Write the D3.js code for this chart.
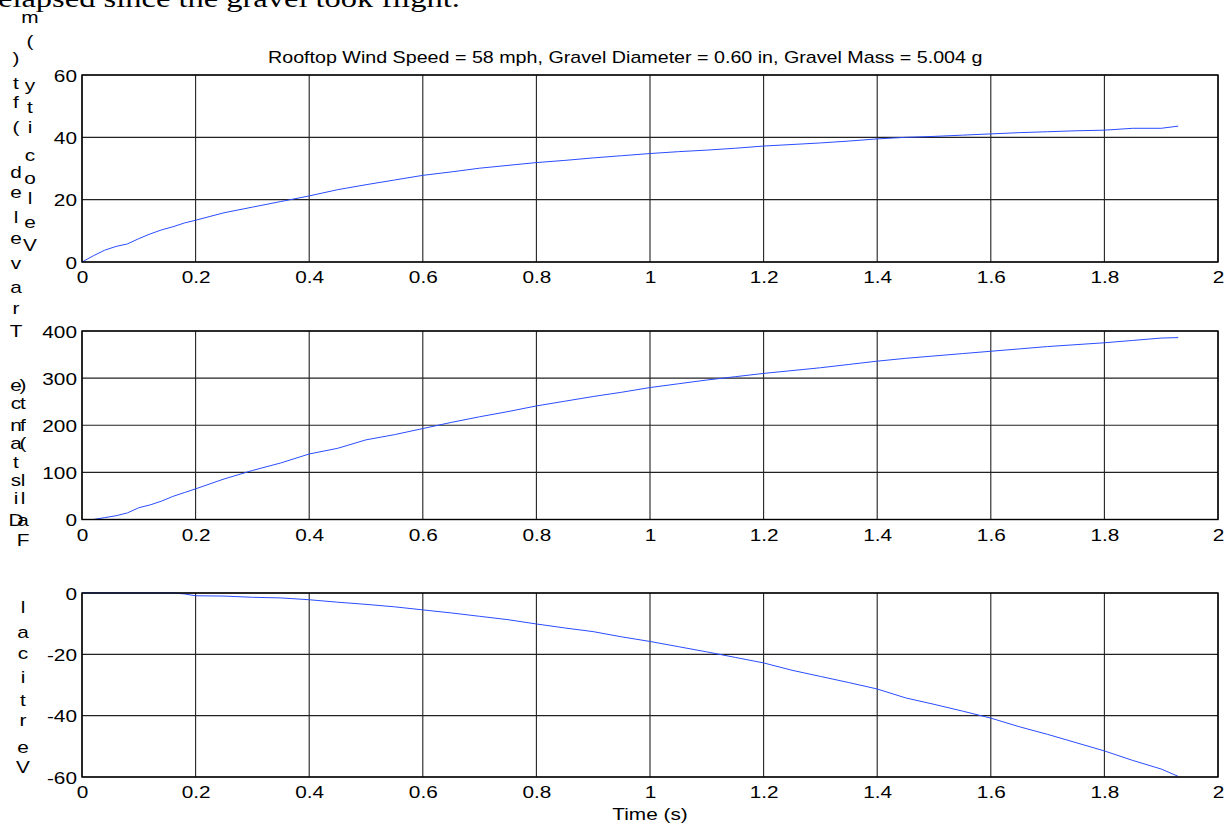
<!DOCTYPE html>
<html>
<head>
<meta charset="utf-8">
<script src="https://cdn.jsdelivr.net/npm/d3@7"></script>
<style>
  body { margin: 0; background: #fff; }
  svg { display: block; }
  text { font-family: "Liberation Sans", Arial, sans-serif; fill: #000; }
</style>
</head>
<body>
<script>
// sample times (s)
var time = [0, 0.02, 0.04, 0.06, 0.08, 0.10, 0.12, 0.14, 0.16, 0.18, 0.20, 0.25, 0.30, 0.35, 0.40,
            0.45, 0.50, 0.55, 0.60, 0.65, 0.70, 0.75, 0.80, 0.85, 0.90, 0.95, 1.00, 1.05, 1.10, 1.15,
            1.20, 1.25, 1.30, 1.35, 1.40, 1.45, 1.50, 1.55, 1.60, 1.65, 1.70, 1.75, 1.80, 1.85, 1.90, 1.93];

// velocity (mph)
var velocity = [0, 2, 3.8, 5, 5.8, 7.5, 9, 10.3, 11.3, 12.5, 13.4, 15.8, 17.6, 19.4, 21.2,
                23.2, 24.8, 26.3, 27.8, 28.9, 30.1, 31, 31.9, 32.6, 33.4, 34.1, 34.8, 35.4, 35.9, 36.5,
                37.2, 37.7, 38.2, 38.8, 39.5, 40, 40.3, 40.7, 41.1, 41.5, 41.8, 42.1, 42.3, 42.9, 42.9, 43.6];

// distance traveled (ft)
var distance = [0, 0, 4, 8, 14, 25, 31, 39, 49, 57, 65, 86, 104, 120, 139,
                151, 169, 180, 193, 206, 218, 229, 241, 251, 261, 270, 280, 288, 296, 303,
                310, 316, 322, 329, 336, 342, 347, 352, 357, 362, 367, 371, 375, 380, 385, 386];

// vertical fall (ft)
var vertical = [0, 0, 0, 0, 0, 0, 0, 0, 0, -0.3, -0.9, -1.0, -1.4, -1.6, -2.2,
                -3.0, -3.7, -4.5, -5.5, -6.5, -7.6, -8.7, -10.1, -11.4, -12.6, -14.3, -15.8, -17.5, -19.2, -21.0,
                -22.8, -25.2, -27.2, -29.2, -31.3, -34.2, -36.3, -38.5, -40.8, -43.6, -46.1, -48.8, -51.5, -54.6, -57.4, -59.8];

var timeTicks = [0, 0.2, 0.4, 0.6, 0.8, 1, 1.2, 1.4, 1.6, 1.8, 2];
var velocityTicks = [0, 20, 40, 60];
var distanceTicks = [0, 100, 200, 300, 400];
var verticalTicks = [-60, -40, -20, 0];

var titleText = "Rooftop Wind Speed = 58 mph, Gravel Diameter = 0.60 in, Gravel Mass = 5.004 g";
var xLabelText = "Time (s)";
var pageText = "elapsed since the gravel took flight.";

var width = 1231, height = 825;
var left = 82, right = 1218;
var stretch = 1.3;   // the scan is wider than it is tall

// plain hyphen minus like the original, not the unicode one d3 uses
var plainformat = function(d) { return String(d); };

var svg = d3.select("body").append("svg")
    .attr("width", width).attr("height", height);

// stray line of document text cut by the top edge
svg.append("text")
    .attr("transform", "translate(-2,7) scale(" + stretch + ",1)")
    .style("font-family", "'Liberation Serif', 'Times New Roman', serif")
    .style("font-size", "25px")
    .text(pageText);

var xscale = d3.scaleLinear().domain([0, 2]).range([left, right]);

var panels = [
  { values: velocity, ticks: velocityTicks, domain: [0, 60], top: 75, bottom: 262 },
  { values: distance, ticks: distanceTicks, domain: [0, 400], top: 331, bottom: 519.5 },
  { values: vertical, ticks: verticalTicks, domain: [-60, 0], top: 593, bottom: 777 }
];

panels.forEach(function(p)
{
  var yscale = d3.scaleLinear().domain(p.domain).range([p.bottom, p.top]);
  var g = svg.append("g");

  g.append("rect")
      .attr("x", left).attr("y", p.top)
      .attr("width", right - left).attr("height", p.bottom - p.top)
      .attr("fill", "#fff");

  // grid lines
  g.append("g").selectAll("line").data(timeTicks).enter().append("line")
      .attr("x1", function(d) { return xscale(d); })
      .attr("x2", function(d) { return xscale(d); })
      .attr("y1", p.top).attr("y2", p.bottom)
      .attr("stroke", "#222").attr("stroke-width", 1.1);
  g.append("g").selectAll("line").data(p.ticks).enter().append("line")
      .attr("x1", left).attr("x2", right)
      .attr("y1", function(d) { return yscale(d); })
      .attr("y2", function(d) { return yscale(d); })
      .attr("stroke", "#222").attr("stroke-width", 1.1);

  // the curve
  var line = d3.line()
      .x(function(d, i) { return xscale(time[i]); })
      .y(function(d) { return yscale(d); });
  g.append("path")
      .datum(p.values)
      .attr("d", line)
      .attr("fill", "none")
      .attr("stroke", "#2a4dff")
      .attr("stroke-width", 1);

  // box
  g.append("rect")
      .attr("x", left).attr("y", p.top)
      .attr("width", right - left).attr("height", p.bottom - p.top)
      .attr("fill", "none").attr("stroke", "#000").attr("stroke-width", 1.4);

  // tick labels
  var xaxis = d3.axisBottom(xscale).tickValues(timeTicks).tickSize(0).tickFormat(plainformat);
  var ax = g.append("g").attr("transform", "translate(0," + p.bottom + ")").call(xaxis);
  ax.select(".domain").remove();
  ax.selectAll("text")
      .attr("y", 0).attr("dy", null)
      .attr("transform", "translate(0,21) scale(" + stretch + ",1)")
      .style("font-size", "16px");

  var yaxis = d3.axisLeft(yscale).tickValues(p.ticks).tickSize(0).tickFormat(plainformat);
  var ay = g.append("g").attr("transform", "translate(" + left + ",0)").call(yaxis);
  ay.select(".domain").remove();
  ay.selectAll("text")
      .attr("x", 0).attr("dy", null)
      .attr("transform", "translate(-5,6) scale(" + stretch + ",1)")
      .style("font-size", "16px");
});

// title: left end and right end, squeezed to fit between them
var titleLeft = 268, titleRight = 983;
var title = svg.append("text")
    .style("font-size", "17px")
    .text(titleText);
var squeeze = (titleRight - titleLeft) / title.node().getComputedTextLength();
title.attr("transform", "translate(" + titleLeft + ",63) scale(" + squeeze + ",1)");

svg.append("text")
    .attr("text-anchor", "middle")
    .attr("transform", "translate(" + (left + right) / 2 + ",820) scale(" + stretch + ",1)")
    .style("font-size", "16px")
    .text(xLabelText);

// rotated y labels came out of the document as upright letters, stacked bottom to top
var stacked = [
  { x: 30, letters: "Velocity (m", ys: [245, 222, 198, 178, 155, 127, 107, 85, 63, 41, 17] },
  { x: 16, letters: "Distance Traveled (ft)",
    ys: [520, 498, 480, 462, 443, 425, 403, 385, 358, 331, 308, 287, 263, 238, 217, 192, 172, 150, 127, 102, 83, 58] },
  { x: 23, letters: "Vertical Fall (ft)",
    ys: [767, 747, 720, 700, 677, 653, 632, 607, 575, 540, 520, 498, 480, 462, 443, 425, 403, 385] }
];

stacked.forEach(function(s)
{
  var chars = s.letters.split("");
  svg.append("g").selectAll("text").data(chars).enter().append("text")
      .attr("text-anchor", "middle")
      .attr("transform", function(d, i) { return "translate(" + s.x + "," + (s.ys[i] + 6) + ") scale(" + stretch + ",1)"; })
      .style("font-size", "16px")
      .text(function(d) { return d; });
});
</script>
</body>
</html>
